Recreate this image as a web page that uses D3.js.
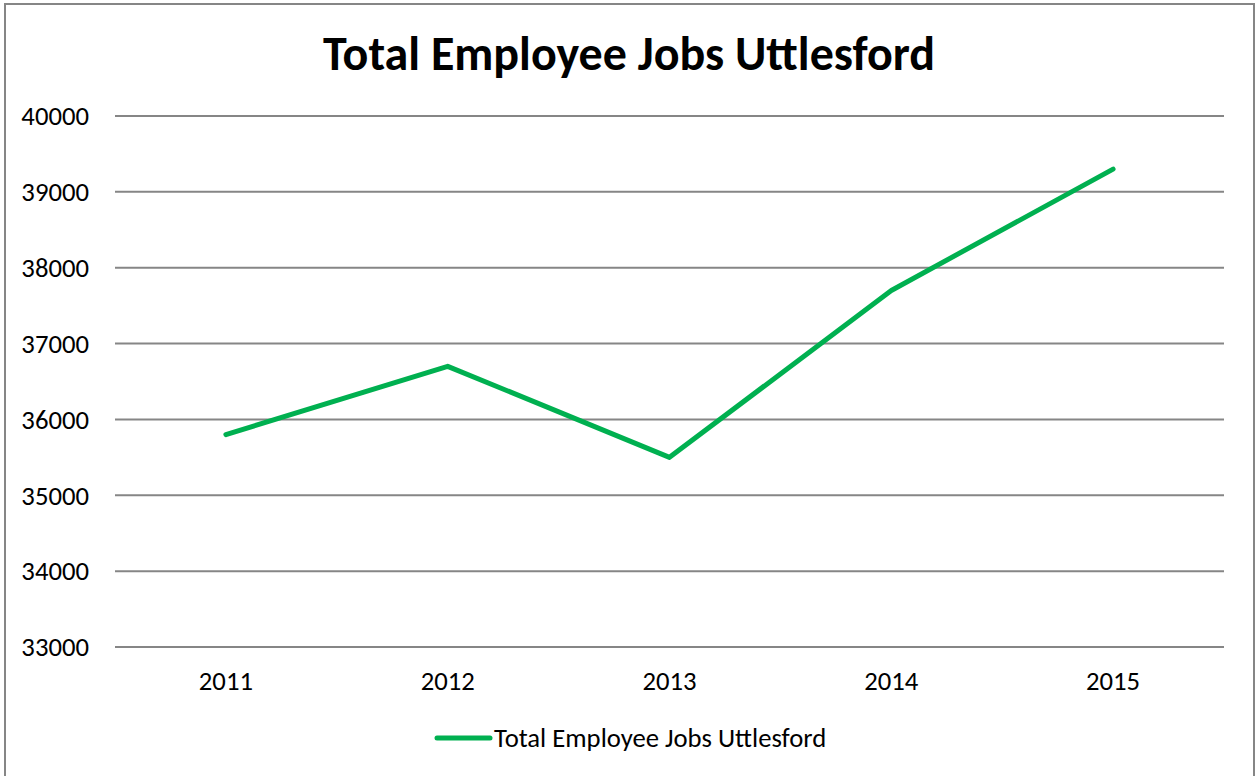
<!DOCTYPE html>
<html>
<head>
<meta charset="utf-8">
<script src="https://cdn.jsdelivr.net/npm/d3@7"></script>
<style>
  body { margin: 0; background: #fff; }
  text { font-family: Calibri, Carlito, "Open Sans", sans-serif; fill: #000; }
</style>
</head>
<body>
<svg id="chart"></svg>
<script>
const years = ['2011', '2012', '2013', '2014', '2015'];
const jobs = [35800, 36700, 35500, 37700, 39300];
const yTicks = [33000, 34000, 35000, 36000, 37000, 38000, 39000, 40000];
const seriesName = 'Total Employee Jobs Uttlesford';

const width = 1259, height = 776;
const margin = { top: 116, right: 35, bottom: 129, left: 115 };

const svg = d3.select('#chart').attr('width', width).attr('height', height);

// chart border
svg.append('rect')
  .attr('x', 5).attr('y', 4)
  .attr('width', 1249).attr('height', 780)
  .attr('fill', 'none')
  .attr('stroke', '#868686')
  .attr('stroke-width', 2);

const x = d3.scaleBand()
  .domain(years)
  .range([margin.left, width - margin.right]);

const y = d3.scaleLinear()
  .domain([33000, 40000])
  .range([height - margin.bottom, margin.top]);

// gridlines
svg.append('g')
  .selectAll('line')
  .data(yTicks)
  .join('line')
  .attr('x1', margin.left)
  .attr('x2', width - margin.right)
  .attr('y1', d => y(d))
  .attr('y2', d => y(d))
  .attr('stroke', '#868686')
  .attr('stroke-width', 2);

// y labels
svg.append('g')
  .selectAll('text')
  .data(yTicks)
  .join('text')
  .attr('x', 89)
  .attr('y', d => y(d))
  .attr('dy', '0.35em')
  .attr('text-anchor', 'end')
  .attr('font-size', 26.7)
  .text(d => d);

// x labels
svg.append('g')
  .selectAll('text')
  .data(years)
  .join('text')
  .attr('x', d => x(d) + x.bandwidth() / 2)
  .attr('y', 690)
  .attr('text-anchor', 'middle')
  .attr('font-size', 26.7)
  .text(d => d);

// title
svg.append('text')
  .attr('x', 629)
  .attr('y', 70)
  .attr('text-anchor', 'middle')
  .attr('font-size', 48)
  .attr('font-weight', 'bold')
  .text(seriesName);

// the line
const line = d3.line()
  .x((d, i) => x(years[i]) + x.bandwidth() / 2)
  .y(d => y(d));

svg.append('path')
  .datum(jobs)
  .attr('fill', 'none')
  .attr('stroke', '#00B050')
  .attr('stroke-width', 5)
  .attr('stroke-linecap', 'round')
  .attr('stroke-linejoin', 'round')
  .attr('d', line);

// legend
const legend = svg.append('g').attr('transform', 'translate(437,738)');
legend.append('line')
  .attr('x1', 0).attr('x2', 53)
  .attr('stroke', '#00B050')
  .attr('stroke-width', 5)
  .attr('stroke-linecap', 'round');
legend.append('text')
  .attr('x', 57)
  .attr('dy', '0.35em')
  .attr('font-size', 26.7)
  .text(seriesName);
</script>
</body>
</html>
